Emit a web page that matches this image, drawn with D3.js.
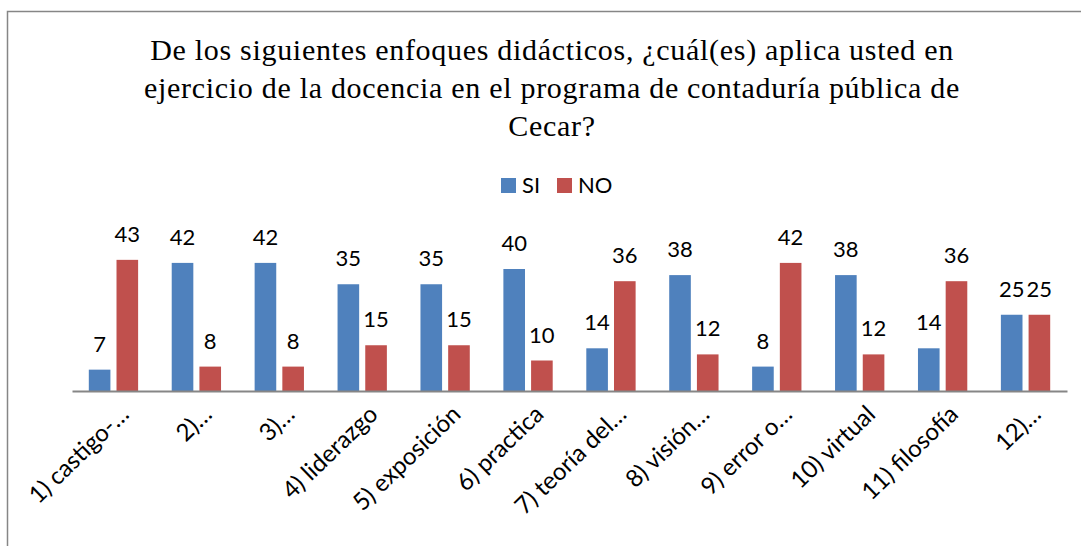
<!DOCTYPE html>
<html>
<head>
<meta charset="utf-8">
<script src="https://cdn.jsdelivr.net/npm/d3@7"></script>
<style>
  body { margin: 0; background: #fff; }
</style>
</head>
<body>
<div id="chart"></div>
<script>
// chart data
var categories = ["1) castigo-…", "2)…", "3)…", "4) liderazgo", "5) exposición", "6) practica",
                  "7) teoría del…", "8) visión…", "9) error o…", "10) virtual", "11) filosofía", "12)…"];
var seriesNames = ["SI", "NO"];
var siValues = [7, 42, 42, 35, 35, 40, 14, 38, 8, 38, 14, 25];
var noValues = [43, 8, 8, 15, 15, 10, 36, 12, 42, 12, 36, 25];
var titleLines = ["De los siguientes enfoques didácticos, ¿cuál(es) aplica usted en",
                  "ejercicio de la docencia en el programa de contaduría pública de",
                  "Cecar?"];

var colors = ["#4F81BD", "#C0504D"];
var labelFont = "Lato, 'Open Sans', sans-serif";

// create the svg canvas
var svg = d3.select("#chart")
    .append("svg")
    .attr("width", 1081)
    .attr("height", 546);

svg.append("rect")
    .attr("width", 1081)
    .attr("height", 546)
    .attr("fill", "#fff");

// outer chart border (runs past the picture on the right and bottom)
svg.append("rect")
    .attr("x", 7.5)
    .attr("y", 11.5)
    .attr("width", 1100)
    .attr("height", 600)
    .attr("fill", "none")
    .attr("stroke", "#868686")
    .attr("stroke-width", 1.5);

// title
svg.append("text")
    .attr("text-anchor", "middle")
    .style("font-family", "'Liberation Serif', 'Times New Roman', serif")
    .style("font-size", "30px")
    .style("letter-spacing", "0.7px")
    .style("fill", "#000")
    .selectAll("tspan")
    .data(titleLines)
    .enter()
    .append("tspan")
    .attr("x", 552)
    .attr("y", function (d, i) { return 60 + i * 38; })
    .text(function (d) { return d; });

// legend
var legend = svg.selectAll(".legend")
    .data(seriesNames)
    .enter()
    .append("g")
    .attr("transform", function (d, i) { return "translate(" + (501 + i * 56) + ",178)"; });

legend.append("rect")
    .attr("width", 15)
    .attr("height", 15)
    .attr("fill", function (d, i) { return colors[i]; });

legend.append("text")
    .attr("x", 21)
    .attr("y", 15)
    .style("font-family", labelFont)
    .style("font-size", "22px")
    .style("fill", "#000")
    .text(function (d) { return d; });

// scales
var x0 = d3.scaleBand()
    .domain(categories)
    .range([72, 1067]);

var x1 = d3.scaleBand()
    .domain(seriesNames)
    .range([16.8, x0.bandwidth() - 16.8])
    .paddingInner(0.22);

var y = d3.scaleLinear()
    .domain([0, 50])
    .range([391, 238.5]);

var color = d3.scaleOrdinal()
    .domain(seriesNames)
    .range(colors);

var rows = categories.map(function (c, i) {
    return { cat: c, values: [{ key: "SI", value: siValues[i] }, { key: "NO", value: noValues[i] }] };
});

var groups = svg.selectAll(".group")
    .data(rows)
    .enter()
    .append("g")
    .attr("transform", function (d) { return "translate(" + x0(d.cat) + ",0)"; });

groups.selectAll("rect")
    .data(function (d) { return d.values; })
    .enter()
    .append("rect")
    .attr("x", function (d) { return x1(d.key); })
    .attr("y", function (d) { return y(d.value); })
    .attr("width", x1.bandwidth())
    .attr("height", function (d) { return y(0) - y(d.value); })
    .attr("fill", function (d) { return color(d.key); });

// value labels
groups.selectAll("text")
    .data(function (d) { return d.values; })
    .enter()
    .append("text")
    .attr("x", function (d) { return x1(d.key) + x1.bandwidth() / 2; })
    .attr("y", function (d) { return y(d.value) - 18; })
    .attr("text-anchor", "middle")
    .style("font-family", labelFont)
    .style("font-size", "22px")
    .style("fill", "#000")
    .text(function (d) { return d.value; });

// x axis
var xAxis = svg.append("g")
    .attr("transform", "translate(0," + y(0) + ")")
    .call(d3.axisBottom(x0).tickSize(0).tickPadding(0));

xAxis.select(".domain")
    .attr("stroke", "#868686")
    .attr("stroke-width", 2);

xAxis.selectAll(".tick text")
    .attr("text-anchor", "end")
    .attr("dy", 0)
    .attr("transform", "translate(17,25) rotate(-44)")
    .style("font-family", labelFont)
    .style("font-size", "24px")
    .style("fill", "#000");
</script>
</body>
</html>
